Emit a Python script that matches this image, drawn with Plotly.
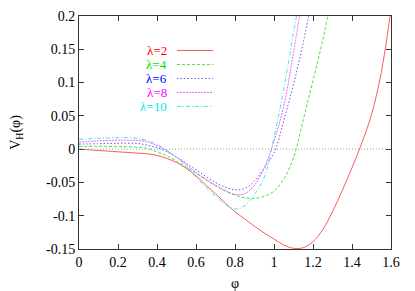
import plotly.graph_objects as go

# ---- data ----
phi_l2 = [0, 0.1, 0.2, 0.3, 0.38, 0.45, 0.5, 0.55, 0.6, 0.65, 0.7, 0.75, 0.8, 0.85, 0.9, 0.95, 1.0, 1.05, 1.1, 1.15, 1.2, 1.25, 1.3, 1.35, 1.4, 1.45, 1.5, 1.55, 1.6]
v_l2 = [0, -0.002, -0.004, -0.006, -0.008, -0.014, -0.020, -0.029, -0.040, -0.054, -0.067, -0.081, -0.094, -0.105, -0.116, -0.126, -0.135, -0.144, -0.149, -0.148, -0.139, -0.121, -0.094, -0.062, -0.028, 0.009, 0.052, 0.115, 0.21]

phi_l4 = [0, 0.1, 0.2, 0.3, 0.35, 0.4, 0.45, 0.5, 0.55, 0.6, 0.65, 0.7, 0.75, 0.8, 0.85, 0.9, 0.95, 1.0, 1.05, 1.1, 1.15, 1.2, 1.25, 1.3]
v_l4 = [0.004, 0.0042, 0.004, 0.003, 0.001, -0.004, -0.010, -0.018, -0.027, -0.036, -0.046, -0.055, -0.063, -0.069, -0.073, -0.074, -0.071, -0.063, -0.045, -0.013, 0.044, 0.103, 0.164, 0.235]

phi_l6 = [0, 0.1, 0.2, 0.3, 0.35, 0.4, 0.45, 0.5, 0.55, 0.6, 0.65, 0.7, 0.75, 0.8, 0.85, 0.9, 0.95, 1.0, 1.05, 1.1, 1.15, 1.2]
v_l6 = [0.0075, 0.0082, 0.0088, 0.0085, 0.006, 0.002, -0.004, -0.012, -0.021, -0.031, -0.041, -0.050, -0.057, -0.061, -0.059, -0.048, -0.028, -0.006, 0.043, 0.097, 0.16, 0.235]

phi_l8 = [0, 0.1, 0.2, 0.3, 0.35, 0.4, 0.45, 0.5, 0.55, 0.6, 0.65, 0.7, 0.75, 0.8, 0.85, 0.9, 0.95, 1.0, 1.05, 1.1, 1.15]
v_l8 = [0.0105, 0.0125, 0.0135, 0.013, 0.011, 0.005, -0.002, -0.012, -0.023, -0.035, -0.045, -0.054, -0.062, -0.068, -0.067, -0.054, -0.028, 0.012, 0.065, 0.145, 0.235]

phi_l10 = [0, 0.1, 0.2, 0.25, 0.3, 0.35, 0.4, 0.45, 0.5, 0.55, 0.6, 0.65, 0.7, 0.75, 0.8, 0.85, 0.9, 0.95, 1.0, 1.05, 1.1, 1.14]
v_l10 = [0.015, 0.0163, 0.0172, 0.0175, 0.016, 0.013, 0.007, -0.002, -0.012, -0.026, -0.042, -0.057, -0.071, -0.083, -0.090, -0.085, -0.068, -0.042, 0.018, 0.09, 0.175, 0.24]

labels = ["λ=2", "λ=4", "λ=6", "λ=8", "λ=10"]
xtick_vals = [0, 0.2, 0.4, 0.6, 0.8, 1.0, 1.2, 1.4, 1.6]
xtick_text = ["0", "0.2", "0.4", "0.6", "0.8", "1", "1.2", "1.4", "1.6"]
ytick_vals = [-0.15, -0.1, -0.05, 0, 0.05, 0.1, 0.15, 0.2]
ytick_text = ["-0.15", "-0.1", "-0.05", "0", "0.05", "0.1", "0.15", "0.2"]

# ---- styles ----
series = [(phi_l2, v_l2), (phi_l4, v_l4), (phi_l6, v_l6), (phi_l8, v_l8), (phi_l10, v_l10)]
text_colors = ["#ff0000", "#00e000", "#0000ff", "#ff00ff", "#00e8e8"]
line_colors = ["#ff5a5a", "#3ee83e", "#5a5aff", "#ff5aff", "#3ee8e8"]
dashes = ["solid", "3px,2px", "1.5px,2px", "2px,1px", "4px,2px,1px,2px"]

FONT = "Times New Roman, Liberation Serif, DejaVu Serif, serif"

fig = go.Figure()
for (xs, ys), name, c, d in zip(series, labels, line_colors, dashes):
    fig.add_trace(go.Scatter(x=xs, y=ys, mode="lines", name=name,
                             line=dict(color=c, width=1, dash=d, shape="spline", smoothing=1.0),
                             showlegend=False, hoverinfo="skip"))

# zero axis (dotted gray)
fig.add_shape(type="line", xref="paper", yref="y", x0=0, x1=1, y0=0, y1=0,
              line=dict(color="#a0a0a0", width=1, dash="1px,2px"))

# gnuplot-style key: text on left, sample line on right
row_y = [0.852, 0.792, 0.732, 0.672, 0.612]
for name, tc, c, d, yy in zip(labels, text_colors, line_colors, dashes, row_y):
    fig.add_annotation(xref="paper", yref="paper", x=0.287, y=yy, text=name,
                       showarrow=False, xanchor="right", yanchor="middle",
                       font=dict(family=FONT, size=13, color=tc))
    fig.add_shape(type="line", xref="paper", yref="paper", x0=0.314, x1=0.43, y0=yy, y1=yy,
                  line=dict(color=c, width=1, dash=d))

axis_common = dict(showline=True, linecolor="#333333", linewidth=1, mirror="allticks",
                   ticks="inside", ticklen=5, tickcolor="#333333", tickwidth=1,
                   showgrid=False, zeroline=False, automargin=False,
                   tickfont=dict(family=FONT, size=14, color="#000000"))

fig.update_xaxes(range=[0, 1.6], tickvals=xtick_vals, ticktext=xtick_text,
                 title=dict(text="φ", font=dict(family=FONT, size=14, color="#000000"), standoff=10),
                 **axis_common)
fig.update_yaxes(range=[-0.15, 0.2], tickvals=ytick_vals, ticktext=ytick_text,
                 title=dict(text="V<sub>H</sub>(φ)", font=dict(family=FONT, size=14, color="#000000"), standoff=28),
                 **axis_common)

# page body has an 8px margin: figure is 407x283, plot area lands at (79,16)-(391,249)
fig.update_layout(width=407, height=283, margin=dict(l=71, r=24, t=8, b=42, autoexpand=False),
                  paper_bgcolor="white", plot_bgcolor="white", showlegend=False,
                  font=dict(family=FONT))

fig.write_html("out.html")
